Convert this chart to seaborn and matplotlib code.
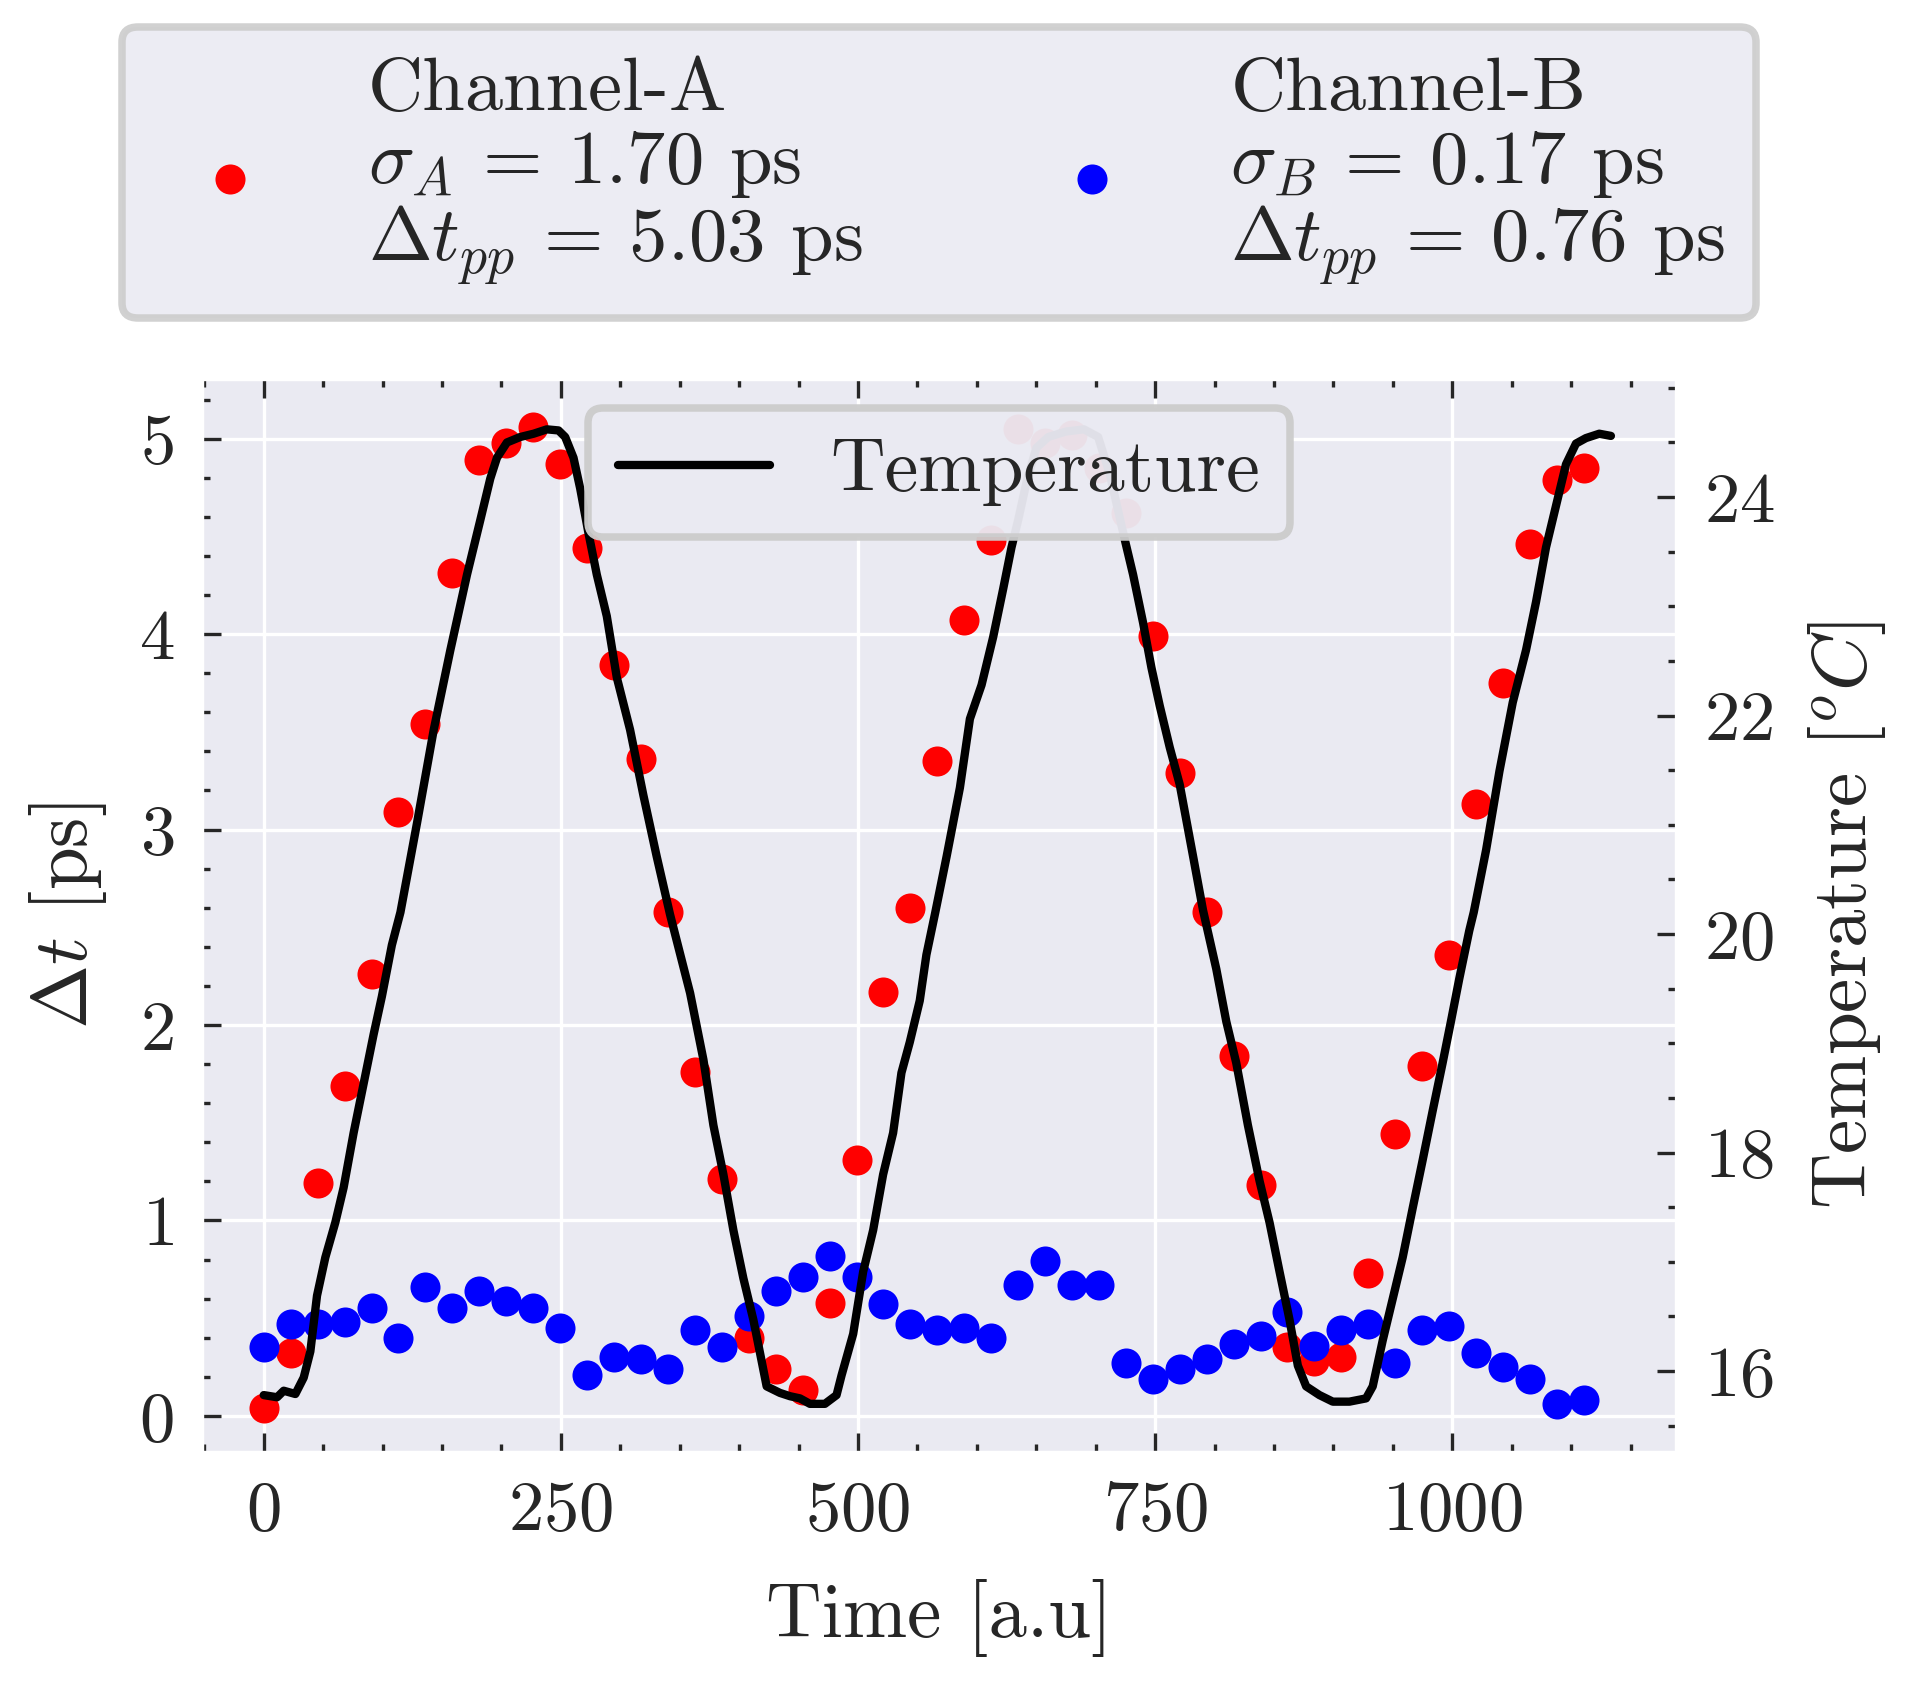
import numpy as np
import pandas as pd
import matplotlib
matplotlib.use("Agg")
import matplotlib.pyplot as plt
import seaborn as sns
from matplotlib.ticker import MultipleLocator

# ---------------- data ----------------
time_pts = [0.0, 22.7, 45.3, 68.0, 90.7, 113.3, 136.0, 158.7, 181.3, 204.0,
            226.7, 249.3, 272.0, 294.7, 317.3, 340.0, 362.7, 385.3, 408.0, 430.7,
            453.3, 476.0, 498.7, 521.3, 544.0, 566.7, 589.3, 612.0, 634.7, 657.3,
            680.0, 702.7, 725.3, 748.0, 770.7, 793.3, 816.0, 838.7, 861.3, 884.0,
            906.7, 929.3, 952.0, 974.7, 997.3, 1020.0, 1042.7, 1065.3, 1088.0, 1110.7]

delay_a = [0.04, 0.32, 1.19, 1.69, 2.26, 3.09, 3.54, 4.31, 4.89, 4.98,
           5.06, 4.87, 4.44, 3.84, 3.36, 2.58, 1.76, 1.21, 0.40, 0.24,
           0.13, 0.58, 1.31, 2.17, 2.60, 3.35, 4.07, 4.48, 5.05, 4.98,
           5.02, 4.85, 4.62, 3.99, 3.29, 2.58, 1.84, 1.18, 0.35, 0.28,
           0.30, 0.73, 1.44, 1.79, 2.36, 3.13, 3.75, 4.46, 4.79, 4.85]

delay_b = [0.35, 0.47, 0.47, 0.48, 0.55, 0.40, 0.66, 0.55, 0.64, 0.59,
           0.55, 0.45, 0.21, 0.30, 0.29, 0.24, 0.44, 0.35, 0.51, 0.64,
           0.71, 0.82, 0.71, 0.57, 0.47, 0.44, 0.45, 0.40, 0.67, 0.79,
           0.67, 0.67, 0.27, 0.19, 0.24, 0.29, 0.37, 0.41, 0.53, 0.36,
           0.44, 0.47, 0.27, 0.44, 0.46, 0.32, 0.25, 0.19, 0.06, 0.08]

temp_time = [0, 11.2, 16.8, 26.6, 33.6, 39.2, 44.8, 51.8, 60.2, 67.2,
             75.6, 84, 92.4, 99.4, 107.8, 115, 129, 143, 157, 171,
             182.2, 190.6, 196.2, 204.6, 215.8, 227, 238.2, 248, 253.6, 260.6,
             266.2, 273.2, 280.2, 288.6, 297, 308.2, 319.4, 330.6, 341.8, 358.7,
             369.9, 378.3, 386.7, 395.1, 403.5, 411.9, 418.9, 423.1, 434.3, 442.7,
             451.1, 459.5, 472.1, 481.9, 486.1, 495.9, 504.3, 512.7, 521.1, 529.5,
             536.5, 543.5, 551.9, 557.5, 565, 574.5, 585.7, 594.1, 603.9, 613.7,
             622.1, 629.1, 634.7, 642, 650, 660, 675, 690, 702, 712,
             724.4, 731.4, 739.8, 746.8, 753.8, 762.2, 770.6, 781.9, 790.2, 801.4,
             809.8, 818.2, 828, 837.8, 846.2, 854.6, 863, 870, 877, 888.2,
             899.4, 913.4, 927.4, 933, 941.4, 949.8, 958.2, 966.6, 975, 983.4,
             991.8, 998.8, 1005.8, 1014.2, 1018, 1028.4, 1039.6, 1050.8, 1062, 1070.4,
             1078.8, 1087.2, 1095.6, 1104, 1112.4, 1123.6, 1133.4]
temp_vals = [15.78, 15.76, 15.82, 15.79, 15.94, 16.18, 16.69, 17.04, 17.36, 17.68,
             18.18, 18.63, 19.08, 19.43, 19.90, 20.20, 21.02, 21.87, 22.60, 23.29,
             23.79, 24.17, 24.36, 24.50, 24.55, 24.58, 24.62, 24.61, 24.55, 24.36,
             24.08, 23.67, 23.29, 22.91, 22.35, 21.87, 21.27, 20.71, 20.18, 19.46,
             18.85, 18.25, 17.80, 17.29, 16.85, 16.47, 16.09, 15.86, 15.80, 15.77,
             15.75, 15.70, 15.70, 15.78, 15.96, 16.34, 16.91, 17.29, 17.80, 18.18,
             18.73, 19.01, 19.39, 19.81, 20.20, 20.71, 21.34, 21.97, 22.28, 22.72,
             23.16, 23.54, 23.79, 24.15, 24.45, 24.55, 24.60, 24.62, 24.55, 24.20,
             23.61, 23.29, 22.85, 22.44, 22.09, 21.71, 21.37, 20.71, 20.22, 19.68,
             19.20, 18.82, 18.25, 17.74, 17.36, 16.91, 16.47, 16.05, 15.86, 15.78,
             15.72, 15.72, 15.75, 15.86, 16.28, 16.66, 17.04, 17.49, 17.93, 18.38,
             18.82, 19.20, 19.59, 20.03, 20.20, 20.77, 21.49, 22.12, 22.60, 23.04,
             23.54, 23.92, 24.30, 24.49, 24.54, 24.58, 24.56]

label_a = "Channel-A\n$\\sigma_A$ = 1.70 ps\n$\\Delta t_{pp}$ = 5.03 ps"
label_b = "Channel-B\n$\\sigma_B$ = 0.17 ps\n$\\Delta t_{pp}$ = 0.76 ps"
label_temp = "Temperature"

# ---------------- style ----------------
sns.set_theme(style="darkgrid")
plt.rcParams["font.family"] = ["cmr10"]
plt.rcParams["mathtext.fontset"] = "cm"
plt.rcParams["axes.formatter.use_mathtext"] = True
plt.rcParams["axes.unicode_minus"] = False

W, H = 1911, 1684
fig = plt.figure(figsize=(W / 300, H / 300), dpi=300)
ax = fig.add_axes([201 / W, 1 - 1453 / H, (1677 - 201) / W, (1453 - 378) / H])
ax2 = ax.twinx()

df = pd.DataFrame({"time": time_pts, "a": delay_a, "b": delay_b})
df_t = pd.DataFrame({"time": temp_time, "temp": temp_vals})

sns.scatterplot(data=df, x="time", y="a", ax=ax, color="red", s=52,
                linewidth=0, label=label_a, legend=False, zorder=3)
sns.scatterplot(data=df, x="time", y="b", ax=ax, color="blue", s=52,
                linewidth=0, label=label_b, legend=False, zorder=3)
sns.lineplot(data=df_t, x="time", y="temp", ax=ax2, color="black", lw=2.0,
             sort=False, estimator=None, label=label_temp, legend=False)

# limits
ax.set_xlim(-52.8, 1189)
ax.set_ylim(-0.19, 5.31)
ax2.set_ylim(15.25, 25.09)

# ticks
ax.xaxis.set_major_locator(MultipleLocator(250))
ax.xaxis.set_minor_locator(MultipleLocator(50))
ax.yaxis.set_major_locator(MultipleLocator(1))
ax.yaxis.set_minor_locator(MultipleLocator(0.2))
ax2.yaxis.set_major_locator(MultipleLocator(2))
ax2.yaxis.set_minor_locator(MultipleLocator(0.5))

tick_fs = 17
ax.tick_params(axis="x", which="both", direction="in", bottom=True, top=True,
               color=".15", labelsize=tick_fs, pad=6.5)
ax.tick_params(axis="y", which="both", direction="in", left=True, right=False,
               color=".15", labelsize=tick_fs, pad=6.5)
ax2.tick_params(axis="y", which="both", direction="in", right=True, left=False,
                color=".15", labelsize=tick_fs, pad=6.5)
for a in (ax, ax2):
    a.tick_params(which="major", length=4.7, width=0.8)
    a.tick_params(which="minor", length=2.1, width=0.8)

ax.grid(True, which="major", color="white", lw=0.8)
ax.grid(False, which="minor")
ax2.grid(False)

lab_fs = 18.5
ax.set_xlabel("Time [a.u]", fontsize=lab_fs, labelpad=8.4)
ax.set_ylabel("$\\Delta t$ [ps]", fontsize=lab_fs, labelpad=7.2)
ax2.set_ylabel("Temperature [$^oC$]", fontsize=lab_fs, labelpad=7.5)

# legends
h, l = ax.get_legend_handles_labels()
leg1 = fig.legend(h, l, loc="upper center", bbox_to_anchor=(939 / W, 1 - 27 / H),
                  bbox_transform=fig.transFigure, ncol=2, borderaxespad=0,
                  fontsize=18.4, frameon=True, fancybox=True, framealpha=0.9,
                  facecolor="#EAEAF2", edgecolor="0.8")
leg1.get_frame().set_linewidth(1.8)
for t in leg1.get_texts():
    t.set_linespacing(1.07)

h2, l2 = ax2.get_legend_handles_labels()
leg2 = fig.legend(h2, l2, loc="upper center", bbox_to_anchor=(939 / W, 1 - 408 / H),
                  bbox_transform=fig.transFigure, borderaxespad=0,
                  fontsize=18.2, frameon=True, fancybox=True, framealpha=0.96,
                  facecolor="#EAEAF2", edgecolor="0.8")
leg2.get_frame().set_linewidth(1.8)
leg2.set_zorder(20)

fig.savefig("out.png", dpi=300)
